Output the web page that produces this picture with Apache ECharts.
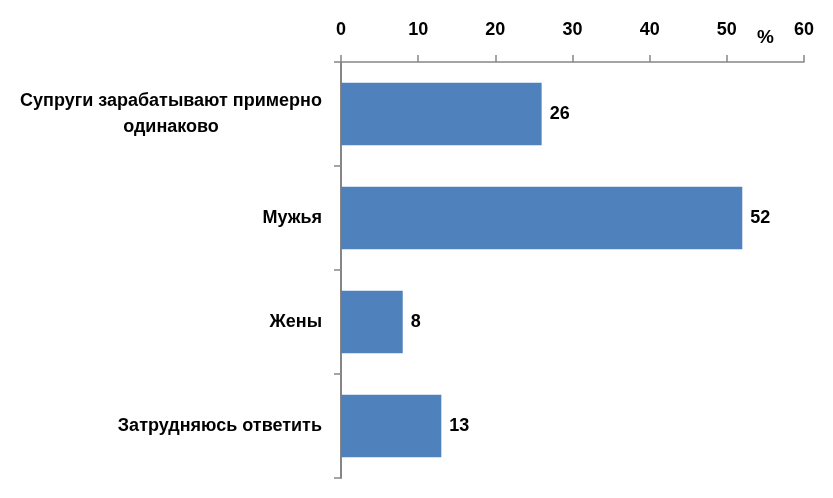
<!DOCTYPE html>
<html><head><meta charset="utf-8">
<script src="https://cdn.jsdelivr.net/npm/echarts@6/dist/echarts.min.js"></script>
<style>html,body{margin:0;padding:0;background:#fff}#c{width:833px;height:498px}</style>
</head><body><div id="c"></div>
<script>
var categories = ['Супруги зарабатывают примерно\nодинаково', 'Мужья', 'Жены', 'Затрудняюсь ответить'];
var values = [26, 52, 8, 13];
var unitLabel = '%';

var FONT = 'Liberation Sans';
var chart = echarts.init(document.getElementById('c'), null, {renderer: 'canvas'});
chart.setOption({
  animation: false,
  grid: {left: 341, right: 29, top: 62, bottom: 20, containLabel: false},
  xAxis: {
    type: 'value', position: 'top', min: 0, max: 60, interval: 10,
    axisLine: {show: true, lineStyle: {color: '#868686', width: 1.5}},
    axisTick: {show: true, length: 7, lineStyle: {color: '#868686', width: 1.5}},
    splitLine: {show: false},
    axisLabel: {margin: 23, color: '#000', fontFamily: FONT, fontWeight: 'bold', fontSize: 18}
  },
  yAxis: {
    type: 'category', inverse: true, data: categories,
    axisLine: {show: true, lineStyle: {color: '#868686', width: 2}},
    axisTick: {show: true, length: 7, interval: 0, lineStyle: {color: '#868686', width: 1.5}},
    axisLabel: {
      margin: 19, color: '#000', fontFamily: FONT, fontWeight: 'bold', fontSize: 18, lineHeight: 26,
      formatter: function (v) {
        if (v.indexOf('\n') >= 0) {
          return v.split('\n').map(function (l) { return '{c|' + l + '}'; }).join('\n');
        }
        return v;
      },
      rich: {c: {width: 302, align: 'center', fontFamily: FONT, fontWeight: 'bold', fontSize: 18, lineHeight: 26, color: '#000'}}
    }
  },
  series: [{
    type: 'bar', data: values, barCategoryGap: '40%',
    itemStyle: {color: '#4F81BD'},
    label: {show: true, position: 'right', distance: 8, color: '#000', fontFamily: FONT, fontWeight: 'bold', fontSize: 18}
  }]
});
var p = chart.convertToPixel({xAxisIndex: 0}, 55);
chart.setOption({graphic: [{type: 'text', x: p, y: 38, style: {text: unitLabel, fill: '#000', font: 'bold 19px ' + FONT, align: 'center', verticalAlign: 'middle'}}]});
</script></body></html>
